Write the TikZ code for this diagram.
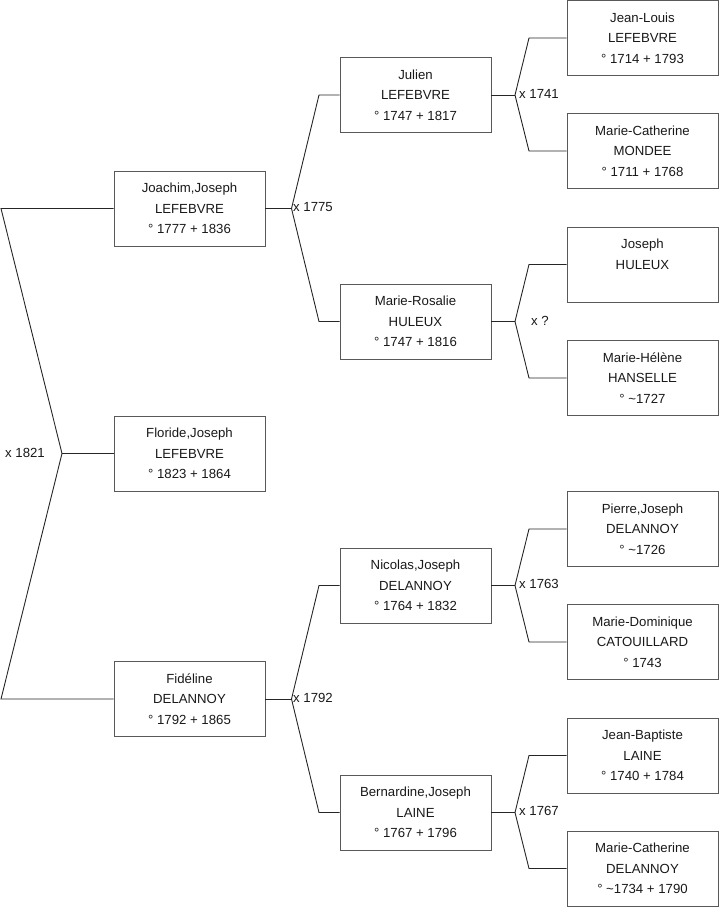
\documentclass[tikz,border=0pt]{standalone}
\usepackage{fontspec}
\setmainfont{Liberation Sans}
\begin{document}
\begin{tikzpicture}[x=1pt,y=-1pt,
  person/.style={draw=black!65, line width=0.9pt, minimum width=151pt, minimum height=75pt,
    inner sep=0pt, align=center, text=black!90, font=\fontsize{13.2}{20.5}\selectfont},
  conn/.style={draw=black!85, line width=0.9pt},
  mar/.style={inner sep=0pt, text=black!90, font=\fontsize{13.2}{15}\selectfont}]
\useasboundingbox (0,0) rectangle (719,908);
% generation 1
\node[person] (joachim) at (189.5,208.5) {Joachim,Joseph\\LEFEBVRE\\° 1777 + 1836};
\node[person] (floride) at (189.5,453.5) {Floride,Joseph\\LEFEBVRE\\° 1823 + 1864};
\node[person] (fideline) at (189.5,699) {Fidéline\\DELANNOY\\° 1792 + 1865};
% generation 2
\node[person] (julien) at (415.5,95) {Julien\\LEFEBVRE\\° 1747 + 1817};
\node[person] (rosalie) at (415.5,321.5) {Marie-Rosalie\\HULEUX\\° 1747 + 1816};
\node[person] (nicolas) at (415.5,585.5) {Nicolas,Joseph\\DELANNOY\\° 1764 + 1832};
\node[person] (bernardine) at (415.5,812.5) {Bernardine,Joseph\\LAINE\\° 1767 + 1796};
% generation 3
\node[person] (jeanlouis) at (642.5,38) {Jean-Louis\\LEFEBVRE\\° 1714 + 1793};
\node[person] (mcmondee) at (642.5,151) {Marie-Catherine\\MONDEE\\° 1711 + 1768};
\node[person] (joseph) at (642.5,264.5) {Joseph\\HULEUX\\~};
\node[person] (mhelene) at (642.5,378) {Marie-Hélène\\HANSELLE\\° \textasciitilde1727};
\node[person] (pierre) at (642.5,529) {Pierre,Joseph\\DELANNOY\\° \textasciitilde1726};
\node[person] (mdominique) at (642.5,642) {Marie-Dominique\\CATOUILLARD\\° 1743};
\node[person] (jeanbaptiste) at (642.5,755.5) {Jean-Baptiste\\LAINE\\° 1740 + 1784};
\node[person] (mcdelannoy) at (642.5,868.5) {Marie-Catherine\\DELANNOY\\° \textasciitilde1734 + 1790};
% junction coordinates
\coordinate (v0) at (62,453.5);
\coordinate (v0a) at (1,208.5);
\coordinate (v0b) at (1,699);
\coordinate (v1) at (291.5,208.5);
\coordinate (v1a) at (319,95);
\coordinate (v1b) at (319,321.5);
\coordinate (v2) at (291.5,699);
\coordinate (v2a) at (319,585.5);
\coordinate (v2b) at (319,812.5);
\coordinate (v3) at (515,95);
\coordinate (v3a) at (529,38);
\coordinate (v3b) at (529,151);
\coordinate (v4) at (515,321.5);
\coordinate (v4a) at (529,264.5);
\coordinate (v4b) at (529,378);
\coordinate (v5) at (515,585.5);
\coordinate (v5a) at (529,529);
\coordinate (v5b) at (529,642);
\coordinate (v6) at (515,812.5);
\coordinate (v6a) at (529,755.5);
\coordinate (v6b) at (529,868.5);
% connectors
\draw[conn] (joachim.west) -- (v0a) -- (v0) -- (v0b) -- (fideline.west);
\draw[conn] (v0) -- (floride.west);
\draw[conn] (joachim.east) -- (v1);
\draw[conn] (julien.west) -- (v1a) -- (v1) -- (v1b) -- (rosalie.west);
\draw[conn] (fideline.east) -- (v2);
\draw[conn] (nicolas.west) -- (v2a) -- (v2) -- (v2b) -- (bernardine.west);
\draw[conn] (julien.east) -- (v3);
\draw[conn] (jeanlouis.west) -- (v3a) -- (v3) -- (v3b) -- (mcmondee.west);
\draw[conn] (rosalie.east) -- (v4);
\draw[conn] (joseph.west) -- (v4a) -- (v4) -- (v4b) -- (mhelene.west);
\draw[conn] (nicolas.east) -- (v5);
\draw[conn] (pierre.west) -- (v5a) -- (v5) -- (v5b) -- (mdominique.west);
\draw[conn] (bernardine.east) -- (v6);
\draw[conn] (jeanbaptiste.west) -- (v6a) -- (v6) -- (v6b) -- (mcdelannoy.west);
% marriage labels
\node[mar, anchor=east] (m0) at (45,452.5) {x 1821};
\node[mar, anchor=west] (m1) at (293,207.5) {x 1775};
\node[mar, anchor=west] (m2) at (293,698) {x 1792};
\node[mar, anchor=west] (m3) at (519,94) {x 1741};
\node[mar, anchor=west] (m4) at (531,320.5) {x ?};
\node[mar, anchor=west] (m5) at (519,584) {x 1763};
\node[mar, anchor=west] (m6) at (519,811) {x 1767};
\end{tikzpicture}
\end{document}
